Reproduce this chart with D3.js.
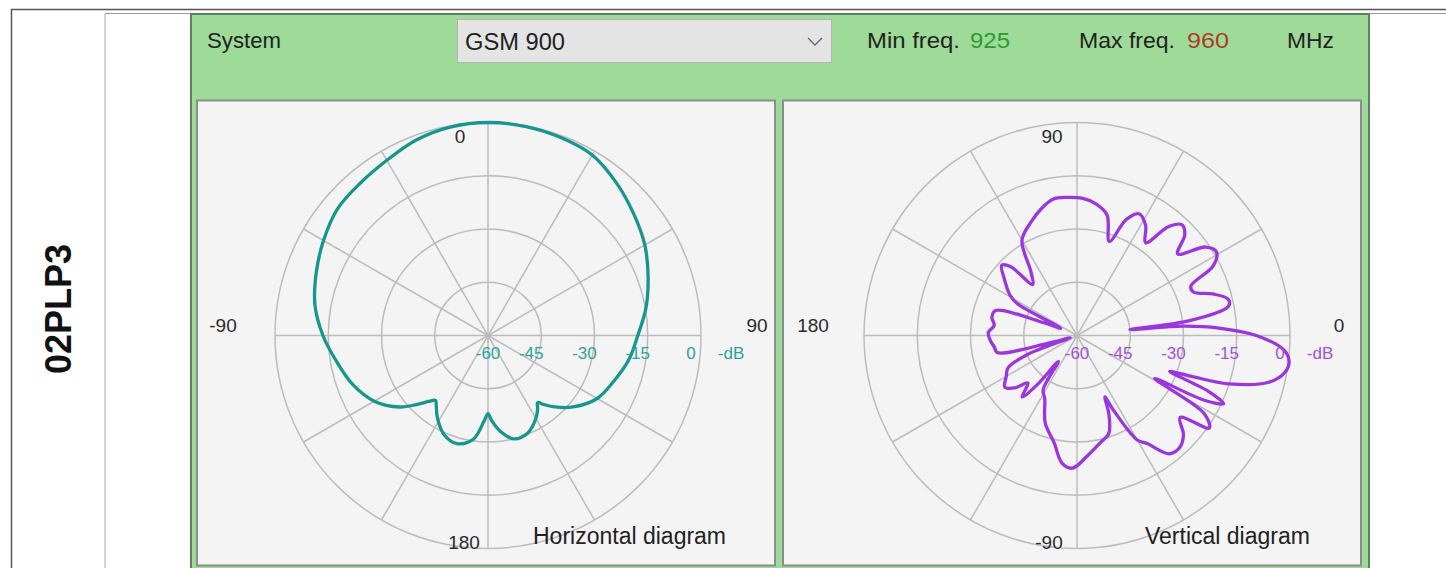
<!DOCTYPE html>
<html>
<head>
<meta charset="utf-8">
<script src="https://cdn.jsdelivr.net/npm/d3@7"></script>
<style>
  html, body { margin: 0; padding: 0; background: #ffffff; }
  svg { display: block; }
  text { font-family: "Liberation Sans", Arial, sans-serif; }
</style>
</head>
<body>
<svg id="chart" width="1446" height="568"></svg>
<script>
// ---- data ----
const systemName = "GSM 900";
const minFreq = 925;
const maxFreq = 960;
const dbTicks = [-60, -45, -30, -15, 0];
const spokeAngles = d3.range(0, 360, 30);

// Horizontal pattern: azimuth in degrees, clockwise from 0 at the top
const hAngles = [0, 10, 20, 30, 40, 50, 60, 70, 80, 90, 100, 110, 120, 130, 137, 141, 143.5, 146, 150, 158, 166, 173, 177.5, 180, 182.5, 188, 196, 204, 212, 216.5, 219, 222, 226, 231, 240, 250, 260, 270, 280, 290, 300, 310, 320, 330, 340, 350];
const hGain   = [0, -0.2, -0.6, -1.3, -3.8, -6.5, -9, -12, -14.8, -17.8, -19.8, -22.3, -24.5, -28.7, -32.5, -35, -36.5, -35, -33, -30.3, -30, -33, -36, -38, -36, -30.5, -28.3, -29.5, -33, -35.5, -36.5, -35, -32, -28, -23, -19.5, -16.8, -13.5, -10.5, -8.5, -6.5, -4.6, -4.0, -3.0, -1.3, -0.3];

// Vertical pattern: elevation in degrees, counter-clockwise from 0 at the right
const vAngles = [0, 3, 5, 6.3, 7.5, 11, 13.5, 17, 20.5, 23.5, 27, 31, 34.5, 39, 43, 46.5, 50, 53.5, 58, 63, 67, 71, 76, 82, 88, 94, 100, 106, 112, 120, 126, 131, 134, 137, 142, 149, 152, 156, 159, 163, 168, 173, 178, 183, 188, 192, 195, 198, 201, 205, 210, 215.6, 220, 224, 228.2, 231, 234.4, 238, 243, 250, 258, 263.3, 268, 275, 282, 288, 292, 294.5, 296, 300, 303, 308, 312.6, 317, 321.5, 325, 328.5, 331, 333, 335, 337, 338.8, 340.3, 342.3, 346.3, 350, 353, 356];
const vGain   = [-9.5, -20, -30, -45, -28, -16.5, -16.2, -20, -25, -25, -17, -14.2, -16, -23.5, -18.5, -17, -20, -27.5, -23.5, -21.5, -24.5, -32, -25, -22.5, -21.3, -21, -21, -23, -25.5, -29, -38, -41, -33, -31, -34, -38, -41, -55, -50, -36, -35.5, -36.5, -35, -35.5, -36.5, -37, -52, -58, -45, -38.6, -37, -35, -37, -40.8, -36.8, -42, -51, -42, -40, -33.8, -29.1, -23.8, -22.6, -26, -29, -31, -36, -41, -36.6, -26, -23.7, -17.7, -17.2, -19, -22.9, -14.5, -18, -35, -20, -14.4, -20, -32, -26, -15.2, -4.4, -0.5, 0.2, -1.6];

// ---- layout ----
const svg = d3.select("#chart");
const W = 1446, H = 568;
const R = 213;
const rScale = d3.scaleLinear().domain([-60, 0]).range([0, R]);

// table frame
svg.append("line").attr("x1", 11).attr("x2", W).attr("y1", 9.5).attr("y2", 9.5).attr("stroke", "#555").attr("stroke-width", 1.5);
svg.append("line").attr("x1", 11.5).attr("x2", 11.5).attr("y1", 9).attr("y2", H).attr("stroke", "#555").attr("stroke-width", 1.5);
svg.append("line").attr("x1", 105).attr("x2", W).attr("y1", 13.5).attr("y2", 13.5).attr("stroke", "#999").attr("stroke-width", 1);
svg.append("line").attr("x1", 105).attr("x2", 105).attr("y1", 13.5).attr("y2", H).attr("stroke", "#aaa").attr("stroke-width", 1);

// row label
svg.append("text")
  .attr("transform", "translate(58,309) rotate(-90)")
  .attr("text-anchor", "middle").attr("dominant-baseline", "central")
  .attr("font-size", 36).attr("font-weight", "bold").attr("fill", "#111")
  .text("02PLP3");

// green form panel
svg.append("rect").attr("x", 191).attr("y", 14).attr("width", 1178).attr("height", H)
  .attr("fill", "#9edb99").attr("stroke", "#5f7f5f").attr("stroke-width", 2);

// header controls
const headerY = 48;
svg.append("text").attr("x", 207).attr("y", headerY).attr("font-size", 22).attr("fill", "#222")
  .attr("textLength", 74).attr("lengthAdjust", "spacingAndGlyphs").text("System");
svg.append("rect").attr("x", 457.5).attr("y", 19.5).attr("width", 374).attr("height", 43)
  .attr("fill", "#e4e4e4").attr("stroke", "#b4b4b4").attr("stroke-width", 1);
svg.append("text").attr("x", 465).attr("y", 50).attr("font-size", 23).attr("fill", "#222")
  .attr("textLength", 100).attr("lengthAdjust", "spacingAndGlyphs").text(systemName);
svg.append("path").attr("d", "M808,38 L815,45 L822,38").attr("fill", "none").attr("stroke", "#666").attr("stroke-width", 1.3);
svg.append("text").attr("x", 867).attr("y", headerY).attr("font-size", 22).attr("fill", "#222")
  .attr("textLength", 93).attr("lengthAdjust", "spacingAndGlyphs").text("Min freq.");
svg.append("text").attr("x", 970).attr("y", headerY).attr("font-size", 22).attr("fill", "#2e9a34")
  .attr("textLength", 40).attr("lengthAdjust", "spacingAndGlyphs").text(minFreq);
svg.append("text").attr("x", 1079).attr("y", headerY).attr("font-size", 22).attr("fill", "#222")
  .attr("textLength", 96).attr("lengthAdjust", "spacingAndGlyphs").text("Max freq.");
svg.append("text").attr("x", 1187).attr("y", headerY).attr("font-size", 22).attr("fill", "#b03a2a")
  .attr("textLength", 42).attr("lengthAdjust", "spacingAndGlyphs").text(maxFreq);
svg.append("text").attr("x", 1287).attr("y", headerY).attr("font-size", 22).attr("fill", "#222")
  .attr("textLength", 47).attr("lengthAdjust", "spacingAndGlyphs").text("MHz");

// one polar diagram panel
function drawPolar(opts) {
  const g = svg.append("g");
  g.append("rect").attr("x", opts.px).attr("y", 100.5).attr("width", 578).attr("height", 465)
    .attr("fill", "#f4f4f4").attr("stroke", "#8c8c8c").attr("stroke-width", 2);

  const c = g.append("g").attr("transform", `translate(${opts.cx},${opts.cy})`);

  // rings
  c.selectAll("circle.ring").data(dbTicks.slice(1)).join("circle")
    .attr("r", d => rScale(d)).attr("fill", "none").attr("stroke", "#bcbcbc").attr("stroke-width", 1.5);
  // spokes
  c.selectAll("line.spoke").data(spokeAngles).join("line")
    .attr("x1", 0).attr("y1", 0)
    .attr("x2", d => R * Math.sin(d * Math.PI / 180))
    .attr("y2", d => -R * Math.cos(d * Math.PI / 180))
    .attr("stroke", "#bcbcbc").attr("stroke-width", 1.5);

  // pattern trace
  const pts = opts.angles.map((a, i) => [opts.toRad(a), rScale(opts.gains[i])]);
  const line = d3.lineRadial().curve(d3.curveCatmullRomClosed.alpha(0.5));
  c.append("path").attr("d", line(pts)).attr("fill", "none")
    .attr("stroke", opts.color).attr("stroke-width", 3.3).attr("stroke-linejoin", "round");

  // dB scale labels
  c.selectAll("text.db").data(dbTicks).join("text")
    .attr("x", d => d === -60 ? 0 : rScale(d) - 10)
    .attr("y", 23).attr("text-anchor", "middle")
    .attr("font-size", 17).attr("fill", opts.labelColor)
    .text(d => d);
  c.append("text").attr("x", 243).attr("y", 23).attr("text-anchor", "middle")
    .attr("font-size", 17).attr("fill", opts.labelColor).text("-dB");

  // direction labels
  opts.dirLabels.forEach(l => {
    c.append("text").attr("x", l.x).attr("y", l.y).attr("text-anchor", "middle")
      .attr("font-size", 19).attr("fill", "#2b2b2b").text(l.t);
  });

  // title
  c.append("text").attr("x", opts.titleX).attr("y", 208).attr("font-size", 23).attr("fill", "#222")
    .text(opts.title);
}

drawPolar({
  px: 197, cx: 488, cy: 335.5,
  angles: hAngles, gains: hGain,
  toRad: a => a * Math.PI / 180,
  color: "#16968f", labelColor: "#2aa3a0",
  dirLabels: [{t: "0", x: -28, y: -193}, {t: "90", x: 269, y: -4}, {t: "-90", x: -265, y: -4}, {t: "180", x: -24, y: 213}],
  title: "Horizontal diagram", titleX: 45
});

drawPolar({
  px: 783, cx: 1077, cy: 335.5,
  angles: vAngles, gains: vGain,
  toRad: a => (90 - a) * Math.PI / 180,
  color: "#9b35e0", labelColor: "#a24fe2",
  dirLabels: [{t: "90", x: -25, y: -193}, {t: "0", x: 262, y: -4}, {t: "180", x: -264, y: -4}, {t: "-90", x: -28, y: 213}],
  title: "Vertical diagram", titleX: 68
});
</script>
</body>
</html>
